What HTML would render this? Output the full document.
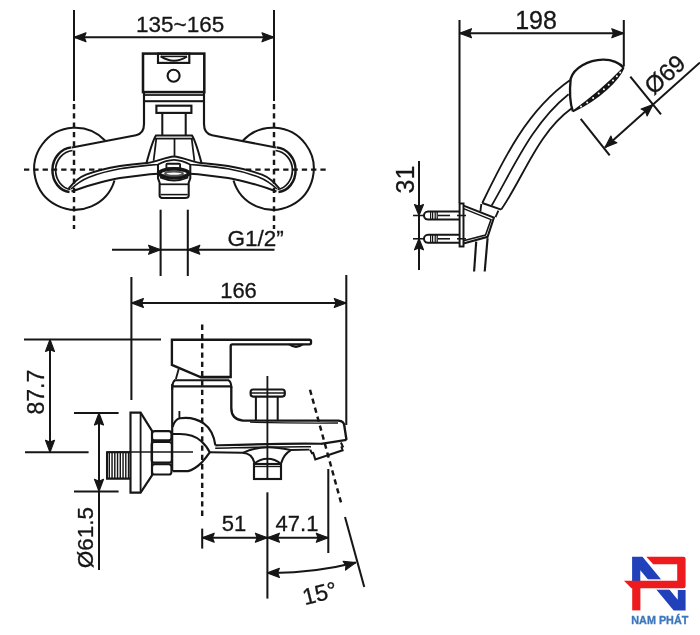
<!DOCTYPE html>
<html><head><meta charset="utf-8"><style>
html,body{margin:0;padding:0;background:#fff;}
svg{display:block;font-family:"Liberation Sans",sans-serif;will-change:transform;}
</style></head><body>
<svg width="700" height="635" viewBox="0 0 700 635">
<rect width="700" height="635" fill="#fff"/>
<line x1="74" y1="10" x2="74" y2="101" stroke="#161616" stroke-width="2.05"/>
<line x1="274" y1="10" x2="274" y2="101" stroke="#161616" stroke-width="2.05"/>
<line x1="74" y1="37.3" x2="274" y2="37.3" stroke="#161616" stroke-width="2.05"/>
<polygon points="74.0,37.3 86.0,32.8 84.2,37.3 86.0,41.8" fill="#161616" stroke="#161616" stroke-width="1.15" stroke-linejoin="round"/>
<polygon points="274.0,37.3 262.0,41.8 263.8,37.3 262.0,32.8" fill="#161616" stroke="#161616" stroke-width="1.15" stroke-linejoin="round"/>
<g opacity="0.999"><text x="180.2" y="32" font-size="22.5" text-anchor="middle" font-weight="normal" fill="#161616" style="stroke:#161616;stroke-width:0.3px" >135~165</text></g>
<line x1="74" y1="104" x2="74" y2="229" stroke="#161616" stroke-width="2.45" stroke-dasharray="5.3 4"/>
<line x1="274" y1="104" x2="274" y2="229" stroke="#161616" stroke-width="2.45" stroke-dasharray="5.3 4"/>
<line x1="24" y1="169.6" x2="102" y2="169.6" stroke="#161616" stroke-width="2.45" stroke-dasharray="5.3 4"/>
<line x1="246" y1="169.6" x2="327" y2="169.6" stroke="#161616" stroke-width="2.45" stroke-dasharray="5.3 4"/>
<g id="halfL"><path d="M105 140.5 A41 41 0 1 0 114.5 180.5" fill="none" stroke="#161616" stroke-width="2.05"/><path d="M144 92 V124 Q144 133.5 136 135.2 L72 147.5" fill="none" stroke="#161616" stroke-width="2.15"/><path d="M71.4 147.4 C61 148.5 52.4 158 52.4 170 C52.4 182 60 191 69.5 192" fill="none" stroke="#161616" stroke-width="2.45"/><path d="M72.5 150.5 C63 151.5 55.6 160 55.6 170 C55.6 180 62 188 70.5 189.5" fill="none" stroke="#161616" stroke-width="1.75"/><path d="M68.6 188.6 C74 182 80 177 86 174.7 C96 170.8 108 168 120 166 C130 164.5 140 163.6 147 163 C157 162 165 157 174 156.5" fill="none" stroke="#161616" stroke-width="1.95"/><path d="M71 189 C77 183.5 83 179.5 89 177.2 C99 173.4 110 170.6 120 168.8 C130 167.2 140 166.2 147 165.4 L157.9 164.5 C163 161.8 168 160.1 174 159.9" fill="none" stroke="#161616" stroke-width="1.65"/><path d="M71.5 191.5 C78 189 88 185.4 102.8 181.7 C110 180 115 178.8 120 178 L150 174.2 L158 173.8" fill="none" stroke="#161616" stroke-width="2.05"/><path d="M144 101.2 H174" fill="none" stroke="#161616" stroke-width="2.05"/><path d="M144 95 H174" fill="none" stroke="#161616" stroke-width="1.75"/><path d="M146.6 162.6 C150 150 153 140 156 135.5 H174" fill="none" stroke="#161616" stroke-width="2.05"/><path d="M156.3 138.6 L153.6 160.8" fill="none" stroke="#161616" stroke-width="1.75"/><path d="M155 138.6 H174" fill="none" stroke="#161616" stroke-width="1.75"/><path d="M162.3 112.9 V136" fill="none" stroke="#161616" stroke-width="2.05"/></g>
<use href="#halfL" transform="translate(348,0) scale(-1,1)"/>
<rect x="143" y="53.6" width="61.3" height="38.5" fill="none" stroke="#161616" stroke-width="2.55"/>
<rect x="158" y="53.6" width="31.3" height="9.3" fill="none" stroke="#161616" stroke-width="2.15"/>
<path d="M160.7 56.4 Q174 65 187 56.4" fill="none" stroke="#161616" stroke-width="1.85" />
<line x1="160.7" y1="56.4" x2="187" y2="56.4" stroke="#161616" stroke-width="1.55"/>
<circle cx="173.6" cy="75.7" r="6" fill="none" stroke="#161616" stroke-width="2.15"/>
<rect x="156.4" y="105.7" width="35" height="7.2" fill="none" stroke="#161616" stroke-width="2.15"/>
<line x1="174.5" y1="138.6" x2="174.5" y2="157" stroke="#161616" stroke-width="1.75"/>
<rect x="166.4" y="163.7" width="13.7" height="4.7" rx="1" fill="none" stroke="#161616" stroke-width="1.85"/>
<ellipse cx="174" cy="173.3" rx="14.8" ry="4.4" fill="none" stroke="#161616" stroke-width="3.75"/>
<ellipse cx="174" cy="173.6" rx="9" ry="2.2" fill="none" stroke="#555" stroke-width="1.95"/>
<path d="M160 177.5 Q174 183.5 188.3 177.5" fill="none" stroke="#161616" stroke-width="1.75" />
<path d="M158 164.2 V178.3 L159.6 182.6 V196 Q160 198 163 198 H185 Q188.5 198 188.7 196 V182.6 L190.3 178.3 V164.2" fill="none" stroke="#161616" stroke-width="2.05" />
<line x1="159.6" y1="184.3" x2="188.7" y2="184.3" stroke="#161616" stroke-width="1.75"/>
<line x1="160.6" y1="194.6" x2="187.7" y2="194.6" stroke="#161616" stroke-width="1.55"/>
<line x1="160.6" y1="209.7" x2="160.6" y2="276" stroke="#161616" stroke-width="2.05"/>
<line x1="187.8" y1="209.7" x2="187.8" y2="276" stroke="#161616" stroke-width="2.05"/>
<line x1="112" y1="249.7" x2="274.5" y2="249.7" stroke="#161616" stroke-width="2.05"/>
<polygon points="160.6,249.7 148.6,254.2 150.4,249.7 148.6,245.2" fill="#161616" stroke="#161616" stroke-width="1.15" stroke-linejoin="round"/>
<polygon points="187.8,249.7 199.8,245.2 198.0,249.7 199.8,254.2" fill="#161616" stroke="#161616" stroke-width="1.15" stroke-linejoin="round"/>
<g opacity="0.999"><text x="227.5" y="245.8" font-size="22.5" text-anchor="start" font-weight="normal" fill="#161616" style="stroke:#161616;stroke-width:0.3px" >G1/2”</text></g>
<!-- SHOWER -->
<line x1="459.5" y1="20" x2="459.5" y2="203" stroke="#161616" stroke-width="2.05"/>
<line x1="623.8" y1="20" x2="623.8" y2="66.5" stroke="#161616" stroke-width="2.05"/>
<line x1="459.5" y1="33.2" x2="623.8" y2="33.2" stroke="#161616" stroke-width="2.05"/>
<polygon points="459.5,33.2 471.5,28.7 469.7,33.2 471.5,37.7" fill="#161616" stroke="#161616" stroke-width="1.15" stroke-linejoin="round"/>
<polygon points="623.8,33.2 611.8,37.7 613.6,33.2 611.8,28.7" fill="#161616" stroke="#161616" stroke-width="1.15" stroke-linejoin="round"/>
<g opacity="0.999"><text x="536" y="28.6" font-size="25" text-anchor="middle" font-weight="normal" fill="#161616" style="stroke:#161616;stroke-width:0.3px" >198</text></g>
<path d="M572.9 111.4 C569.5 102 569.5 90 570.7 78.6 C574 68 588 60 602.9 59.7 C612 59.5 620 63 623.6 67.9" fill="none" stroke="#161616" stroke-width="2.35" />
<path d="M623.6 67.9 C612 80 592 98 572.9 111.4 C600 99 619 79 623.6 67.9 Z" fill="#161616" stroke="#161616" stroke-width="1.75"/>
<circle cx="620.2" cy="72.4" r="1.0" fill="#fff"/>
<circle cx="616.9" cy="76.3" r="1.0" fill="#fff"/>
<circle cx="613.0" cy="80.4" r="1.0" fill="#fff"/>
<circle cx="608.7" cy="84.7" r="1.0" fill="#fff"/>
<circle cx="603.9" cy="89.2" r="1.0" fill="#fff"/>
<circle cx="598.7" cy="93.6" r="1.0" fill="#fff"/>
<circle cx="593.1" cy="98.0" r="1.0" fill="#fff"/>
<circle cx="587.2" cy="102.4" r="1.0" fill="#fff"/>
<circle cx="581.0" cy="106.5" r="1.0" fill="#fff"/>
<path d="M570.2 80 C527.6 109.7 503.7 158.4 482.3 203" fill="none" stroke="#161616" stroke-width="1.85" />
<path d="M568.6 94.3 C532.6 123 514 166.8 491.7 205.5" fill="none" stroke="#161616" stroke-width="1.75" />
<path d="M571.4 108.6 C537.7 133.1 524 176.3 501.2 209.6" fill="none" stroke="#161616" stroke-width="1.85" />
<path d="M482.3 203 L501.2 209.6" fill="none" stroke="#161616" stroke-width="1.95" />
<path d="M481.3 204 L480.4 211.5" fill="none" stroke="#161616" stroke-width="1.85" />
<path d="M498.4 210.6 L495.5 217.2" fill="none" stroke="#161616" stroke-width="1.85" />
<rect x="459.6" y="203.5" width="3.9" height="43" fill="none" stroke="#161616" stroke-width="1.95"/>
<path d="M463.5 205.6 L493.9 217.6 L487.6 236.8 L463.5 243.5" fill="none" stroke="#161616" stroke-width="2.05" />
<path d="M463.5 208.6 L491 219.6 L485.5 235 L463.5 240.8" fill="none" stroke="#161616" stroke-width="1.55" />
<path d="M476.2 241.7 L474.1 271.5" fill="none" stroke="#161616" stroke-width="2.15" />
<path d="M487.6 238.2 L484.7 271.5" fill="none" stroke="#161616" stroke-width="2.15" />
<path d="M459.5 211.5 H428 C424 211.5 424 215.5 424 215.5 C424 215.5 424 219.5 428 219.5 H459.5" fill="none" stroke="#161616" stroke-width="1.95" />
<line x1="430.6" y1="211.5" x2="430.6" y2="219.5" stroke="#161616" stroke-width="1.25"/>
<line x1="432.6" y1="211.5" x2="432.6" y2="219.5" stroke="#161616" stroke-width="1.25"/>
<line x1="435.2" y1="211.5" x2="435.2" y2="219.5" stroke="#161616" stroke-width="1.25"/>
<line x1="437.2" y1="211.5" x2="437.2" y2="219.5" stroke="#161616" stroke-width="1.25"/>
<line x1="438" y1="215.5" x2="450" y2="215.5" stroke="#161616" stroke-width="1.55"/>
<line x1="413" y1="215.5" x2="424" y2="215.5" stroke="#161616" stroke-width="1.55"/>
<line x1="457" y1="215.5" x2="466" y2="215.5" stroke="#161616" stroke-width="1.55"/>
<path d="M459.5 234.8 H428 C424 234.8 424 238.8 424 238.8 C424 238.8 424 242.8 428 242.8 H459.5" fill="none" stroke="#161616" stroke-width="1.95" />
<line x1="430.6" y1="234.8" x2="430.6" y2="242.8" stroke="#161616" stroke-width="1.25"/>
<line x1="432.6" y1="234.8" x2="432.6" y2="242.8" stroke="#161616" stroke-width="1.25"/>
<line x1="435.2" y1="234.8" x2="435.2" y2="242.8" stroke="#161616" stroke-width="1.25"/>
<line x1="437.2" y1="234.8" x2="437.2" y2="242.8" stroke="#161616" stroke-width="1.25"/>
<line x1="438" y1="238.8" x2="450" y2="238.8" stroke="#161616" stroke-width="1.55"/>
<line x1="413" y1="238.8" x2="424" y2="238.8" stroke="#161616" stroke-width="1.55"/>
<line x1="457" y1="238.8" x2="466" y2="238.8" stroke="#161616" stroke-width="1.55"/>
<line x1="419" y1="161" x2="419" y2="270" stroke="#161616" stroke-width="2.05"/>
<polygon points="419.0,215.5 414.5,204.5 419.0,206.3 423.5,204.5" fill="#161616" stroke="#161616" stroke-width="1.15" stroke-linejoin="round"/>
<polygon points="419.0,238.8 423.5,249.8 419.0,248.0 414.5,249.8" fill="#161616" stroke="#161616" stroke-width="1.15" stroke-linejoin="round"/>
<g opacity="0.999"><text x="413.6" y="179.6" font-size="25" text-anchor="middle" font-weight="normal" fill="#161616" style="stroke:#161616;stroke-width:0.3px" transform="rotate(-90 413.6 179.6)" >31</text></g>
<line x1="630.3" y1="76.6" x2="661" y2="114.3" stroke="#161616" stroke-width="2.05"/>
<line x1="580.7" y1="118.9" x2="609.7" y2="155.4" stroke="#161616" stroke-width="2.05"/>
<line x1="605" y1="147.4" x2="700" y2="62.5" stroke="#161616" stroke-width="2.05"/>
<polygon points="605.0,147.4 610.9,136.0 612.6,140.6 616.9,142.8" fill="#161616" stroke="#161616" stroke-width="1.15" stroke-linejoin="round"/>
<polygon points="653.0,104.5 647.1,115.9 645.4,111.3 641.1,109.1" fill="#161616" stroke="#161616" stroke-width="1.15" stroke-linejoin="round"/>
<g opacity="0.999"><text x="670.4" y="80.6" font-size="24" text-anchor="middle" font-weight="normal" fill="#161616" style="stroke:#161616;stroke-width:0.3px" transform="rotate(-41.8 670.4 80.6)" >Ø69</text></g>
<!-- SIDE -->
<line x1="131.4" y1="277" x2="131.4" y2="400" stroke="#161616" stroke-width="2.05"/>
<line x1="346.3" y1="275" x2="346.3" y2="425" stroke="#161616" stroke-width="2.05"/>
<line x1="131.4" y1="303" x2="346.3" y2="303" stroke="#161616" stroke-width="2.05"/>
<polygon points="131.4,303.0 143.4,298.5 141.6,303.0 143.4,307.5" fill="#161616" stroke="#161616" stroke-width="1.15" stroke-linejoin="round"/>
<polygon points="346.3,303.0 334.3,307.5 336.1,303.0 334.3,298.5" fill="#161616" stroke="#161616" stroke-width="1.15" stroke-linejoin="round"/>
<g opacity="0.999"><text x="238.5" y="298" font-size="22" text-anchor="middle" font-weight="normal" fill="#161616" style="stroke:#161616;stroke-width:0.3px" >166</text></g>
<line x1="24" y1="339.4" x2="161" y2="339.4" stroke="#161616" stroke-width="2.05"/>
<line x1="50" y1="339.4" x2="50" y2="452.3" stroke="#161616" stroke-width="2.05"/>
<polygon points="50.0,339.4 54.5,351.4 50.0,349.6 45.5,351.4" fill="#161616" stroke="#161616" stroke-width="1.15" stroke-linejoin="round"/>
<polygon points="50.0,452.3 45.5,440.3 50.0,442.1 54.5,440.3" fill="#161616" stroke="#161616" stroke-width="1.15" stroke-linejoin="round"/>
<g opacity="0.999"><text x="43.6" y="392.2" font-size="23" text-anchor="middle" font-weight="normal" fill="#161616" style="stroke:#161616;stroke-width:0.3px" transform="rotate(-90 43.6 392.2)" >87.7</text></g>
<line x1="25" y1="452.3" x2="88.6" y2="452.3" stroke="#161616" stroke-width="2.05"/>
<line x1="74" y1="413" x2="118.6" y2="413" stroke="#161616" stroke-width="2.05"/>
<line x1="74" y1="491.4" x2="118.6" y2="491.4" stroke="#161616" stroke-width="2.05"/>
<line x1="99" y1="413" x2="99" y2="570" stroke="#161616" stroke-width="2.05"/>
<polygon points="99.0,413.0 103.5,425.0 99.0,423.2 94.5,425.0" fill="#161616" stroke="#161616" stroke-width="1.15" stroke-linejoin="round"/>
<polygon points="99.0,491.4 94.5,479.4 99.0,481.2 103.5,479.4" fill="#161616" stroke="#161616" stroke-width="1.15" stroke-linejoin="round"/>
<g opacity="0.999"><text x="92.6" y="537.7" font-size="22.5" text-anchor="middle" font-weight="normal" fill="#161616" style="stroke:#161616;stroke-width:0.3px" transform="rotate(-90 92.6 537.7)" >Ø61.5</text></g>
<path d="M130.5 412.6 H140.6 L152 430.9 V475.4 L140.6 492.6 H130.5 Z" fill="none" stroke="#161616" stroke-width="2.15" />
<line x1="140.6" y1="412.6" x2="140.6" y2="492.6" stroke="#161616" stroke-width="1.85"/>
<path d="M130.5 452.2 H107 V478.6 H130.5" fill="none" stroke="#161616" stroke-width="2.05" />
<line x1="109.3" y1="452.2" x2="109.3" y2="478.6" stroke="#161616" stroke-width="1.45"/>
<line x1="112.05" y1="452.2" x2="112.05" y2="478.6" stroke="#161616" stroke-width="1.45"/>
<line x1="114.8" y1="452.2" x2="114.8" y2="478.6" stroke="#161616" stroke-width="1.45"/>
<line x1="117.55" y1="452.2" x2="117.55" y2="478.6" stroke="#161616" stroke-width="1.45"/>
<line x1="120.3" y1="452.2" x2="120.3" y2="478.6" stroke="#161616" stroke-width="1.45"/>
<line x1="123.05" y1="452.2" x2="123.05" y2="478.6" stroke="#161616" stroke-width="1.45"/>
<line x1="125.8" y1="452.2" x2="125.8" y2="478.6" stroke="#161616" stroke-width="1.45"/>
<line x1="128.55" y1="452.2" x2="128.55" y2="478.6" stroke="#161616" stroke-width="1.45"/>
<rect x="152" y="431.1" width="19.4" height="9.2" rx="2.6" fill="none" stroke="#161616" stroke-width="2.05"/>
<rect x="151.6" y="442.0" width="20.2" height="20.6" rx="2.6" fill="none" stroke="#161616" stroke-width="2.05"/>
<rect x="152" y="464.3" width="19.4" height="10.3" rx="2.6" fill="none" stroke="#161616" stroke-width="2.05"/>
<line x1="107" y1="452" x2="193" y2="452" stroke="#161616" stroke-width="1.65"/>
<path d="M171.9 339.7 H309.5 Q311 339.7 311 341.2 V342.8 Q311 344.3 309.5 344.3 H232.5 Q230.7 344.3 230.7 346 V377 H200.4 L171.9 364.9 Z" fill="none" stroke="#161616" stroke-width="2.35" />
<path d="M289 344.3 Q296 349.5 303 344.3" fill="none" stroke="#161616" stroke-width="1.95" />
<path d="M291.5 345.5 Q296 347.6 300.5 345.5" fill="none" stroke="#161616" stroke-width="1.45" />
<path d="M175.9 379.1 L178.7 368.9" fill="none" stroke="#161616" stroke-width="1.85" />
<line x1="174" y1="380.2" x2="229" y2="380.2" stroke="#161616" stroke-width="2.05"/>
<line x1="200.4" y1="377.6" x2="229" y2="377.6" stroke="#161616" stroke-width="1.55"/>
<path d="M172.2 390 Q172.2 381.5 175 380.2" fill="none" stroke="#161616" stroke-width="2.05" />
<path d="M228.5 380.2 Q231.3 381.5 231.3 388" fill="none" stroke="#161616" stroke-width="2.05" />
<line x1="172.2" y1="386.3" x2="231.3" y2="386.3" stroke="#161616" stroke-width="2.35"/>
<path d="M172.2 384 V471" fill="none" stroke="#161616" stroke-width="2.15" />
<path d="M231.3 386.3 V408 Q231.3 419.5 243 420.6 H338.3 Q344.4 421 344.4 426.5 L346.5 440" fill="none" stroke="#161616" stroke-width="2.35" />
<path d="M250 422.2 C280 423 310 423.2 338 423" fill="none" stroke="#161616" stroke-width="1.35" />
<path d="M179.4 411 V418.6" fill="none" stroke="#161616" stroke-width="1.85" />
<path d="M172.6 427 C174 422 176.5 419 180 418.3 C186 417.5 196 418 204 423.7 C210 428 214 436 215.4 445.4" fill="none" stroke="#161616" stroke-width="2.15" />
<path d="M172.6 434 H180 C188 434 196 436.5 201 441 C205 444.5 208 448.5 209.7 452.3 C206.5 457 204 460 201.7 462.6 C197 467 193 470 188 471.1 H172.6" fill="none" stroke="#161616" stroke-width="2.15" />
<path d="M215.4 445.4 C245 444.5 285 443.2 321 443.8 L346.5 439.9" fill="none" stroke="#161616" stroke-width="2.15" />
<path d="M215.2 448.2 C245 447.6 285 446.5 311 446.8" fill="none" stroke="#161616" stroke-width="1.65" />
<path d="M209.7 452.3 L242.7 452.8 C249 453.2 253 457 254.5 463" fill="none" stroke="#161616" stroke-width="2.15" />
<path d="M242.7 452.8 C252 448.5 260 447.3 267.9 447.3 C276 447.3 283 448.5 290.6 450 L309.5 449.6" fill="none" stroke="#161616" stroke-width="1.95" />
<path d="M290.6 450.4 C286 453 283 457 281.2 463" fill="none" stroke="#161616" stroke-width="2.15" />
<path d="M310.2 449.8 L311.9 453.2 L313.2 453 L315.3 459.4 L342.6 450.3 L341.6 447.2 L342.8 446.6 L340.9 442.5" fill="none" stroke="#161616" stroke-width="2.05" />
<rect x="250.6" y="389.5" width="34.2" height="7.1" rx="2.5" fill="none" stroke="#161616" stroke-width="2.15"/>
<line x1="250.6" y1="393.0" x2="284.8" y2="393.0" stroke="#161616" stroke-width="1.35"/>
<line x1="255.9" y1="396.6" x2="255.9" y2="420.3" stroke="#161616" stroke-width="2.05"/>
<line x1="277.7" y1="396.6" x2="277.7" y2="420.3" stroke="#161616" stroke-width="2.05"/>
<path d="M254 464 Q260 458.8 267.4 458.8 Q275 458.8 281 464" fill="none" stroke="#161616" stroke-width="2.05" />
<rect x="254" y="464" width="27" height="15" fill="none" stroke="#161616" stroke-width="2.15"/>
<line x1="254" y1="466.5" x2="281" y2="466.5" stroke="#161616" stroke-width="1.35"/>
<line x1="267.4" y1="376" x2="267.4" y2="479.4" stroke="#161616" stroke-width="1.85"/>
<line x1="267.4" y1="492.3" x2="267.4" y2="598.6" stroke="#161616" stroke-width="2.05"/>
<line x1="328.3" y1="469" x2="328.3" y2="553" stroke="#161616" stroke-width="2.05"/>
<line x1="202.2" y1="324.6" x2="202.2" y2="516" stroke="#161616" stroke-width="2.45" stroke-dasharray="5.3 4"/>
<line x1="202.2" y1="528.6" x2="202.2" y2="548.6" stroke="#161616" stroke-width="2.05"/>
<line x1="310.0" y1="389.7" x2="341.4325" y2="504" stroke="#161616" stroke-width="2.45" stroke-dasharray="5.3 4"/>
<line x1="345.0075" y1="517" x2="364.2575" y2="587" stroke="#161616" stroke-width="2.05"/>
<line x1="202.2" y1="537.7" x2="328.3" y2="537.7" stroke="#161616" stroke-width="2.05"/>
<polygon points="202.2,537.7 214.2,533.2 212.4,537.7 214.2,542.2" fill="#161616" stroke="#161616" stroke-width="1.15" stroke-linejoin="round"/>
<polygon points="267.4,537.7 255.4,542.2 257.2,537.7 255.4,533.2" fill="#161616" stroke="#161616" stroke-width="1.15" stroke-linejoin="round"/>
<polygon points="267.4,537.7 279.4,533.2 277.6,537.7 279.4,542.2" fill="#161616" stroke="#161616" stroke-width="1.15" stroke-linejoin="round"/>
<polygon points="328.3,537.7 316.3,542.2 318.1,537.7 316.3,533.2" fill="#161616" stroke="#161616" stroke-width="1.15" stroke-linejoin="round"/>
<g opacity="0.999"><text x="234" y="530.6" font-size="22" text-anchor="middle" font-weight="normal" fill="#161616" style="stroke:#161616;stroke-width:0.3px" >51</text></g>
<g opacity="0.999"><text x="297" y="530.6" font-size="22" text-anchor="middle" font-weight="normal" fill="#161616" style="stroke:#161616;stroke-width:0.3px" >47.1</text></g>
<path d="M267.4 572.9 A338 338 0 0 0 355.9 562.6" fill="none" stroke="#161616" stroke-width="2.05" />
<polygon points="267.4,572.9 279.4,568.4 277.6,572.9 279.4,577.4" fill="#161616" stroke="#161616" stroke-width="1.15" stroke-linejoin="round"/>
<polygon points="355.9,562.6 345.5,570.1 346.0,565.2 343.1,561.4" fill="#161616" stroke="#161616" stroke-width="1.15" stroke-linejoin="round"/>
<g opacity="0.999"><text x="321.5" y="601" font-size="23" text-anchor="middle" font-weight="normal" fill="#161616" style="stroke:#161616;stroke-width:0.3px" transform="rotate(-14 321.5 601)" >15°</text></g>
<polygon points="632.1,556.7 642.5,556.7 677.8,599.8 677.8,590 685.6,590 685.6,610.4 673.7,610.4 640.3,570.3 640.3,581 632.1,581" fill="#2141bb"/>
<rect x="641" y="579.3" width="36.8" height="10.4" fill="#fff"/>
<path d="M646.3 556.7 H683.6 Q685.6 556.7 685.6 558.7 V586.2 Q685.6 588.2 683.6 588.2 H631.4 L624 580.7 H677.2 V564.3 H653.2 Z" fill="#ee1b1e"/>
<rect x="632.2" y="587.5" width="8.2" height="22.9" fill="#ee1b1e"/>
<g opacity="0.999"><text x="659.8" y="623.9" font-size="10.8" text-anchor="middle" font-weight="bold" fill="#3b78bd" style="stroke:#3b78bd;stroke-width:0.3px" >NAM PHÁT</text></g>
</svg></body></html>
